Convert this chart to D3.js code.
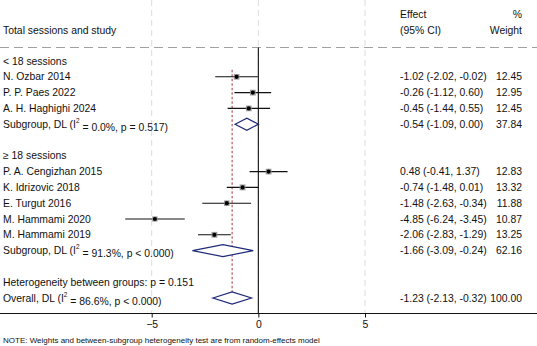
<!DOCTYPE html>
<html><head><meta charset="utf-8">
<script src="https://cdn.jsdelivr.net/npm/d3@7/dist/d3.min.js"></script>
<style>body{margin:0;background:#fff}svg{display:block}text{font-family:"Liberation Sans",Arial,Helvetica,sans-serif;fill:#111}</style>
</head><body><svg id="c" width="537" height="346"></svg>
<script>
// ---- data ----
const group1Label = "< 18 sessions";
const group2Label = "\u2265 18 sessions";
const studyNames = ["N. Ozbar 2014","P. P. Paes 2022","A. H. Haghighi 2024","P. A. Cengizhan 2015","K. Idrizovic 2018","E. Turgut 2016","M. Hammami 2020","M. Hammami 2019"];
const studyGroup = [1,1,1,2,2,2,2,2];
const studyEffect = [-1.02,-0.26,-0.45,0.48,-0.74,-1.48,-4.85,-2.06];
const studyLower  = [-2.02,-1.12,-1.44,-0.41,-1.48,-2.63,-6.24,-2.83];
const studyUpper  = [-0.02,0.60,0.55,1.37,0.01,-0.34,-3.45,-1.29];
const studyWeight = [12.45,12.95,12.45,12.83,13.32,11.88,10.87,13.25];
const subgroupI2 = ["0.0%","91.3%"];
const subgroupP  = ["p = 0.517","p < 0.000"];
const subgroupEffect = [-0.54,-1.66];
const subgroupLower  = [-1.09,-3.09];
const subgroupUpper  = [0.00,-0.24];
const subgroupWeight = [37.84,62.16];
const overallEffect = -1.23, overallLower = -2.13, overallUpper = -0.32, overallWeight = 100.00;
const overallI2 = "86.6%", overallP = "p < 0.000";
const hetBetween = "p = 0.151";
const xTicks = [-5,0,5];

// ---- layout ----
const svg = d3.select("#c");
const fs = 10.4;
const x = d3.scaleLinear().domain([-5,5]).range([151.7,365]);
const row0 = 61, rowH = 15.8;
const yRow = i => row0 + i*rowH;
const axisY = 313.5, topY = 47.5;
const effX = 400, wX = 522;
const navy = "#1f2a78";

const fmt = v => (v<0?"-":"") + Math.abs(v).toFixed(2);
const ci = (e,l,u) => `${fmt(e)} (${fmt(l)}, ${fmt(u)})`;

// gridlines
svg.append("g").selectAll("line").data(xTicks).join("line")
  .attr("x1",d=>x(d)).attr("x2",d=>x(d)).attr("y1",0).attr("y2",axisY)
  .attr("stroke","#dcdcdc").attr("stroke-width",1).attr("stroke-dasharray","6,4");

// top dashed separator
svg.append("line").attr("x1",0).attr("x2",537).attr("y1",topY).attr("y2",topY)
  .attr("stroke","#a0a0a0").attr("stroke-width",1).attr("stroke-dasharray","9,5");

// zero line
svg.append("line").attr("x1",x(0)).attr("x2",x(0)).attr("y1",topY).attr("y2",axisY)
  .attr("stroke","#111").attr("stroke-width",1.1);

// overall effect line
svg.append("line").attr("x1",x(overallEffect)).attr("x2",x(overallEffect))
  .attr("y1",yRow(1)-7).attr("y2",yRow(15)+6)
  .attr("stroke","#9a1f2a").attr("stroke-width",0.9).attr("stroke-dasharray","2.5,2");

// axis
const axisG = svg.append("g").attr("transform",`translate(0,${axisY})`);
axisG.append("line").attr("x1",0).attr("x2",537).attr("stroke","#111").attr("stroke-width",1.1);
axisG.call(d3.axisBottom(x).tickValues(xTicks).tickSize(4).tickSizeOuter(0).tickFormat(d3.format("d")))
  .call(g=>g.select(".domain").remove())
  .call(g=>g.selectAll(".tick line").attr("stroke","#111"))
  .call(g=>g.selectAll(".tick text").attr("font-size",fs).attr("dy","0.95em").attr("y",5).attr("font-family","Liberation Sans, Arial, sans-serif").attr("fill","#111"));

// header
svg.append("text").attr("x",3).attr("y",30).attr("dy","0.35em").attr("font-size",fs).text("Total sessions and study");
svg.append("text").attr("x",effX).attr("y",14).attr("dy","0.35em").attr("font-size",fs).text("Effect");
svg.append("text").attr("x",effX).attr("y",30).attr("dy","0.35em").attr("font-size",fs).text("(95% CI)");
svg.append("text").attr("x",wX).attr("y",14).attr("dy","0.35em").attr("font-size",fs).attr("text-anchor","end").text("%");
svg.append("text").attr("x",wX).attr("y",30).attr("dy","0.35em").attr("font-size",fs).attr("text-anchor","end").text("Weight");

// rows
const rows = [];
rows.push({type:"label", text:group1Label});
studyNames.forEach((n,i)=>{ if(studyGroup[i]===1) rows.push({type:"study", i}); });
rows.push({type:"sub", g:0});
rows.push({type:"blank"});
rows.push({type:"label", text:group2Label});
studyNames.forEach((n,i)=>{ if(studyGroup[i]===2) rows.push({type:"study", i}); });
rows.push({type:"sub", g:1});
rows.push({type:"blank"});
rows.push({type:"label", text:"Heterogeneity between groups: " + hetBetween});
rows.push({type:"overall"});

function i2Label(g, prefix, i2, p){
  const t = g.append("text").attr("x",3).attr("dy","0.35em").attr("font-size",fs);
  t.append("tspan").text(prefix + ", DL (I");
  t.append("tspan").attr("font-size",fs*0.62).attr("dy","-0.75em").text("2");
  t.append("tspan").attr("dy","0.75em").text(` = ${i2}, ${p})`);
  return t;
}
function diamond(g, e, l, u){
  const h = 6;
  g.append("path").attr("d",`M${x(l)},0L${x(e)},${-h}L${x(u)},0L${x(e)},${h}Z`)
   .attr("fill","#fff").attr("stroke",navy).attr("stroke-width",1.2);
}

rows.forEach((r,k)=>{
  const g = svg.append("g").attr("transform",`translate(0,${yRow(k)})`);
  if(r.type==="label"){
    g.append("text").attr("x",3).attr("dy","0.35em").attr("font-size",fs).text(r.text);
  } else if(r.type==="study"){
    const i = r.i;
    g.append("text").attr("x",3).attr("dy","0.35em").attr("font-size",fs).text(studyNames[i]);
    g.append("line").attr("x1",x(studyLower[i])).attr("x2",x(studyUpper[i])).attr("stroke","#111").attr("stroke-width",1.1);
    const s = Math.sqrt(studyWeight[i])*1.6;
    g.append("rect").attr("x",x(studyEffect[i])-s/2).attr("y",-s/2).attr("width",s).attr("height",s).attr("fill","#9a9a9a");
    g.append("circle").attr("cx",x(studyEffect[i])).attr("r",2.1).attr("fill","#000");
    g.append("text").attr("x",effX).attr("dy","0.35em").attr("font-size",fs).text(ci(studyEffect[i],studyLower[i],studyUpper[i]));
    g.append("text").attr("x",wX).attr("dy","0.35em").attr("font-size",fs).attr("text-anchor","end").text(studyWeight[i].toFixed(2));
  } else if(r.type==="sub"){
    const j = r.g;
    i2Label(g, "Subgroup", subgroupI2[j], subgroupP[j]);
    diamond(g, subgroupEffect[j], subgroupLower[j], subgroupUpper[j]);
    g.append("text").attr("x",effX).attr("dy","0.35em").attr("font-size",fs).text(ci(subgroupEffect[j],subgroupLower[j],subgroupUpper[j]));
    g.append("text").attr("x",wX).attr("dy","0.35em").attr("font-size",fs).attr("text-anchor","end").text(subgroupWeight[j].toFixed(2));
  } else if(r.type==="overall"){
    i2Label(g, "Overall", overallI2, overallP);
    diamond(g, overallEffect, overallLower, overallUpper);
    g.append("text").attr("x",effX).attr("dy","0.35em").attr("font-size",fs).text(ci(overallEffect,overallLower,overallUpper));
    g.append("text").attr("x",wX).attr("dy","0.35em").attr("font-size",fs).attr("text-anchor","end").text(overallWeight.toFixed(2));
  }
});

// note
svg.append("text").attr("x",3).attr("y",340).attr("dy","0.35em").attr("font-size",8)
  .text("NOTE: Weights and between-subgroup heterogeneity test are from random-effects model");
</script></body></html>
